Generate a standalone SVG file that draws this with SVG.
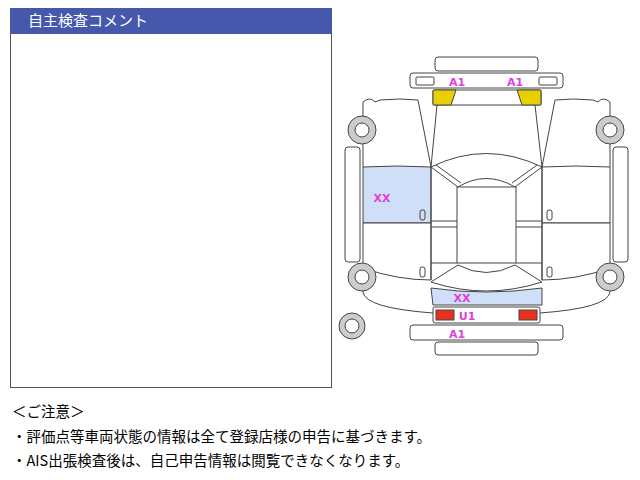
<svg xmlns="http://www.w3.org/2000/svg" width="640" height="480" viewBox="0 0 640 480">
<style>
.l{fill:#fff;stroke:#444;stroke-width:1}
.n{fill:none;stroke:#444;stroke-width:1}
.lb{font-family:"DejaVu Sans",sans-serif;font-weight:bold;font-size:11px;fill:#e040e0}
.t{font-family:"Noto Sans CJK JP",sans-serif;font-size:14.5px;fill:#000}
</style>
<rect width="640" height="480" fill="#fff"/>
<g id="comment">
<rect x="10.5" y="8.5" width="321" height="379" fill="#fff" stroke="#555"/>
<rect x="10" y="8" width="322" height="26" fill="#4558ac"/>
<text x="28" y="26" font-family="Noto Sans CJK JP,sans-serif" font-size="15" fill="#fff">自主検査コメント</text>
</g>
<g id="car">
<rect class="l" x="435" y="57" width="103" height="14" rx="3"/>
<rect class="l" x="410" y="73" width="153" height="15" rx="3"/>
<rect class="l" x="416" y="77" width="18" height="8" rx="1"/>
<rect class="l" x="539" y="77" width="18" height="8" rx="1"/>
<rect class="l" x="433" y="90" width="108" height="15" rx="2"/>
<path d="M433 90H456L451 105H433Z" fill="#e8d000" stroke="#444"/>
<path d="M517 90H541V105H522Z" fill="#e8d000" stroke="#444"/>
<path class="n" d="M437 105L431 167M535 105L542 167"/>
<path class="n" d="M363 167V102Q370 96 375 102L380 100Q400 98 418 100L431 167"/>
<path class="n" d="M610 167V102Q603 96 598 102L593 100Q573 98 555 100L542 167"/>
<path d="M363 167Q397 165 431 167V223H363Z" fill="#cfdff8" stroke="#444"/>
<path class="l" d="M363 223H431V280Q397 280 363 268Z"/>
<path class="l" d="M542 167Q576 165 610 167V223H542Z"/>
<path class="l" d="M542 223H610V268Q576 280 542 280Z"/>
<path class="n" d="M431 167L458 187M436 165L461 183M542 167L515 187M537 165L512 183"/>
<path class="n" d="M431 167Q486 140 542 167M458 187Q486 170 515 187"/>
<rect class="l" x="457" y="187" width="59" height="76"/>
<path class="n" d="M431 167V280M542 167V280M431 221H457M431 227H457M431 263H457M516 221H542M516 227H542M516 263H542"/>
<path class="n" d="M458 265Q486 280 515 265M458 265L431 282M515 265L542 282M431 282Q486 300 542 282"/>
<path class="n" d="M363 268V292Q365 308 433 313M610 268V292Q608 308 540 313"/>
<path d="M431 288Q486 296 542 288V305H433Z" fill="#cfdff8" stroke="#444"/>
<rect class="l" x="433" y="307" width="107" height="16" rx="2"/>
<rect x="436" y="310" width="18" height="10" fill="#e83020" stroke="#444"/>
<rect x="519" y="310" width="18" height="10" fill="#e83020" stroke="#444"/>
<rect class="l" x="410" y="325" width="153" height="15" rx="3"/>
<rect class="l" x="435" y="342" width="103" height="13" rx="3"/>
<rect class="l" x="345" y="147" width="15" height="115" rx="3"/>
<rect class="l" x="613" y="147" width="15" height="115" rx="3"/>
<g fill="#ccc" stroke="#444"><circle cx="362" cy="130" r="14"/><circle cx="362" cy="277" r="14"/><circle cx="610" cy="130" r="14"/><circle cx="610" cy="277" r="14"/><circle cx="352" cy="326" r="13"/></g>
<g class="l"><circle cx="362" cy="130" r="7"/><circle cx="362" cy="277" r="7"/><circle cx="610" cy="130" r="7"/><circle cx="610" cy="277" r="7"/><circle cx="352" cy="326" r="7"/></g>
<g class="n"><rect x="420" y="210" width="5" height="10" rx="2"/><rect x="420" y="267" width="5" height="10" rx="2"/><rect x="547" y="210" width="5" height="10" rx="2"/><rect x="547" y="267" width="5" height="10" rx="2"/></g>
<text class="lb" x="457" y="86" text-anchor="middle">A1</text>
<text class="lb" x="515" y="86" text-anchor="middle">A1</text>
<text class="lb" x="382" y="202" text-anchor="middle">XX</text>
<text class="lb" x="462" y="302" text-anchor="middle">XX</text>
<text class="lb" x="467" y="320" text-anchor="middle">U1</text>
<text class="lb" x="457" y="338" text-anchor="middle">A1</text>
</g>
<text class="t" x="12" y="417">＜ご注意＞</text>
<text class="t" x="12" y="442">・評価点等車両状態の情報は全て登録店様の申告に基づきます。</text>
<text class="t" x="12" y="466">・AIS出張検査後は、自己申告情報は閲覧できなくなります。</text>
</svg>
